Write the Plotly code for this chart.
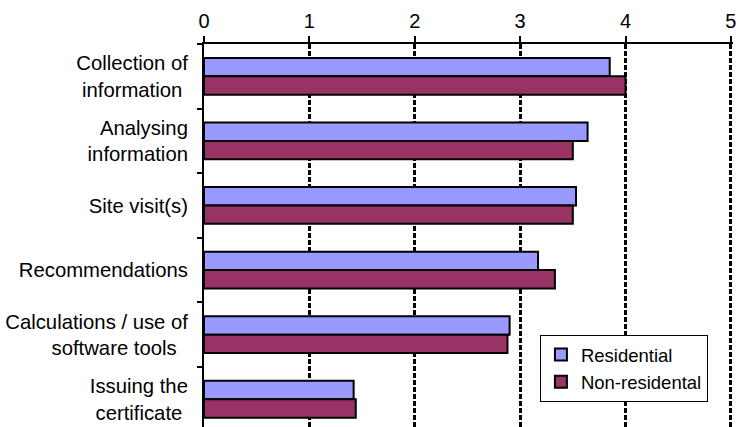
import plotly.graph_objects as go

categories = [
    "Collection of<br>information\u00a0",
    "Analysing<br>information",
    "Site visit(s)",
    "Recommendations",
    "Calculations / use of<br>software tools\u00a0\u00a0",
    "Issuing the<br>certificate\u00a0",
]
residential = [3.85, 3.64, 3.53, 3.17, 2.90, 1.42]
non_residential = [4.00, 3.50, 3.50, 3.33, 2.88, 1.44]
x_ticks = [0, 1, 2, 3, 4, 5]

font_family = "Liberation Sans, Arial, sans-serif"

fig = go.Figure()
fig.add_trace(go.Bar(
    y=categories, x=residential, orientation="h", name="Residential",
    marker=dict(color="#9999FF", line=dict(color="black", width=2)),
))
fig.add_trace(go.Bar(
    y=categories, x=non_residential, orientation="h", name="Non-residental",
    marker=dict(color="#993366", line=dict(color="black", width=2)),
))

fig.update_layout(
    width=736, height=427,
    margin=dict(l=204, r=0, t=44, b=0),
    paper_bgcolor="white", plot_bgcolor="white",
    barmode="group", bargap=0.43, bargroupgap=0,
    font=dict(family=font_family, size=20, color="black"),
    showlegend=True,
    legend=dict(
        x=0.635, y=0.24, xanchor="left", yanchor="top",
        bgcolor="white", bordercolor="black", borderwidth=1,
        font=dict(size=18.5), traceorder="normal",
        itemwidth=30,
    ),
    xaxis=dict(
        side="top", range=[0, 5.02], tickvals=x_ticks,
        showline=True, linecolor="black", linewidth=2,
        ticks="outside", ticklen=6, tickwidth=2, tickcolor="black",
        showgrid=True, gridcolor="black", gridwidth=2.5, griddash="5px,2px",
        zeroline=False, mirror=False, fixedrange=True,
        tickfont=dict(size=20), ticklabeloverflow="allow",
    ),
    yaxis=dict(
        type="category", range=[5.43, -0.5],
        showline=True, linecolor="black", linewidth=2,
        ticks="outside", ticklen=5, tickwidth=2, tickcolor="black",
        tickson="boundaries", showgrid=False, zeroline=False,
        tickfont=dict(size=20.3), ticklabelstandoff=10,
    ),
)

fig.write_html("out.html")
